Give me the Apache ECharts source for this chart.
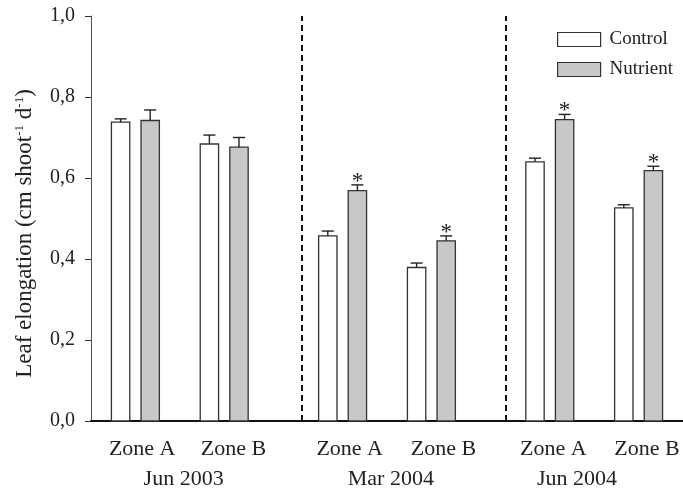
<!DOCTYPE html>
<html>
<head>
<meta charset="utf-8">
<script src="https://cdn.jsdelivr.net/npm/echarts@6/dist/echarts.min.js"></script>
<style>
  html, body { margin: 0; padding: 0; background: #fff; }
  #chart { width: 683px; height: 490px; }
</style>
</head>
<body>
<div id="chart"></div>
<script>
// Leaf elongation per zone and sampling date, control vs nutrient plots
const periods = ['Jun 2003', 'Mar 2004', 'Jun 2004'];
const zones = ['Zone A', 'Zone B'];
const controlMean = [0.738, 0.684, 0.457, 0.379, 0.640, 0.526];
const controlSE   = [0.008, 0.022, 0.012, 0.011, 0.009, 0.008];
const nutrientMean = [0.742, 0.676, 0.569, 0.445, 0.744, 0.618];
const nutrientSE   = [0.026, 0.024, 0.014, 0.012, 0.013, 0.011];
const significant  = [false, false, true, true, true, true];
const yTickLabels = ['0,0', '0,2', '0,4', '0,6', '0,8', '1,0'];

// layout of the slot axis (one unit per bar slot)
const FONT = '"Liberation Serif", "Times New Roman", serif';
const BAR_W = 0.62;
const separators = [7.12, 14.02];
const zoneLabelPos = [1.73, 4.81, 8.74, 11.91, 15.62, 18.78];
const periodLabelPos = [3.13, 10.13, 16.42];

function slotOf(i) {
  const g = Math.floor(i / 2), z = i % 2;
  return 1 + 7 * g + 3 * z;
}
const controlData = controlMean.map((m, i) => [slotOf(i), m, controlSE[i], 0]);
const nutrientData = nutrientMean.map((m, i) => [slotOf(i) + 1, m, nutrientSE[i], significant[i] ? 1 : 0]);

function makeRender(fill) {
  return function (params, api) {
    const x = api.value(0), y = api.value(1), se = api.value(2), sig = api.value(3);
    const base = api.coord([x, 0]);
    const top = api.coord([x, y]);
    const cap = api.coord([x, y + se]);
    const w = api.size([BAR_W, 0])[0];
    const capW = 12;
    const children = [
      { type: 'rect', shape: { x: base[0] - w / 2, y: top[1], width: w, height: base[1] - top[1] },
        style: { fill: fill, stroke: '#333', lineWidth: 1.3 } },
      { type: 'line', shape: { x1: top[0], y1: top[1], x2: cap[0], y2: cap[1] },
        style: { stroke: '#222', lineWidth: 1.4 } },
      { type: 'line', shape: { x1: cap[0] - capW / 2, y1: cap[1], x2: cap[0] + capW / 2, y2: cap[1] },
        style: { stroke: '#222', lineWidth: 1.4 } }
    ];
    if (sig) {
      children.push({ type: 'text', x: cap[0], y: cap[1] - 3,
        style: { text: '*', fill: '#222', font: '23px ' + FONT, align: 'center', verticalAlign: 'middle' } });
    }
    return { type: 'group', children: children };
  };
}

function nearestIndex(list, v) {
  let best = 0;
  list.forEach((p, i) => { if (Math.abs(p - v) < Math.abs(list[best] - v)) best = i; });
  return best;
}

const chart = echarts.init(document.getElementById('chart'), null, { renderer: 'canvas' });
chart.setOption({
  animation: false,
  backgroundColor: '#fff',
  grid: { left: 91, top: 16, width: 594, height: 406, containLabel: false },
  legend: {
    orient: 'vertical', left: 557, top: 30, padding: 0, itemGap: 11,
    itemWidth: 43, itemHeight: 14, icon: 'rect',
    textStyle: { fontFamily: FONT, fontSize: 19, color: '#222', lineHeight: 14, padding: [0, 0, 0, 4] },
    data: [
      { name: 'Control', itemStyle: { color: '#fff', borderColor: '#333', borderWidth: 1.2 } },
      { name: 'Nutrient', itemStyle: { color: '#c8c8c8', borderColor: '#333', borderWidth: 1.2 } }
    ]
  },
  xAxis: [
    {
      type: 'value', min: 0, max: 20, gridIndex: 0,
      axisLine: { show: true, onZero: false, lineStyle: { color: '#111', width: 2 } },
      axisTick: { show: false }, splitLine: { show: false },
      axisLabel: {
        customValues: zoneLabelPos, margin: 17,
        fontFamily: FONT, fontSize: 22, color: '#222',
        formatter: v => zones[nearestIndex(zoneLabelPos, v) % 2]
      }
    },
    {
      type: 'value', min: 0, max: 20, gridIndex: 0, position: 'bottom',
      axisLine: { show: false }, axisTick: { show: false }, splitLine: { show: false },
      axisLabel: {
        customValues: periodLabelPos, margin: 47,
        fontFamily: FONT, fontSize: 22, color: '#222',
        formatter: v => periods[nearestIndex(periodLabelPos, v)]
      }
    }
  ],
  yAxis: {
    type: 'value', min: 0, max: 1, interval: 0.2,
    axisLine: { show: true, lineStyle: { color: '#555', width: 1 } },
    axisTick: { show: true, inside: false, length: 6, lineStyle: { color: '#333', width: 1 } },
    splitLine: { show: false },
    axisLabel: {
      margin: 16, fontFamily: FONT, fontSize: 20, color: '#222',
      formatter: v => yTickLabels[Math.round(v / 0.2)]
    },
    name: '{a|Leaf elongation (cm shoot}{s|-1}{a| d}{s|-1}{a|)}',
    nameLocation: 'middle', nameRotate: 90, nameGap: 55,
    nameTextStyle: {
      padding: [0, 30, 0, 0],
      rich: {
        a: { fontFamily: FONT, fontSize: 23, color: '#222' },
        s: { fontFamily: FONT, fontSize: 13, color: '#222', verticalAlign: 'top', padding: [0, 0, 7, 0] }
      }
    }
  },
  series: [
    {
      name: 'Control', type: 'custom', renderItem: makeRender('#fff'),
      itemStyle: { color: '#fff', borderColor: '#333' },
      encode: { x: 0, y: 1 }, data: controlData, z: 3,
      markLine: {
        silent: true, symbol: 'none', label: { show: false },
        lineStyle: { color: '#111', width: 2, type: [6, 4] },
        data: separators.map(s => ({ xAxis: s }))
      }
    },
    {
      name: 'Nutrient', type: 'custom', renderItem: makeRender('#c8c8c8'),
      itemStyle: { color: '#c8c8c8', borderColor: '#333' },
      encode: { x: 0, y: 1 }, data: nutrientData, z: 3
    }
  ]
});
</script>
</body>
</html>
